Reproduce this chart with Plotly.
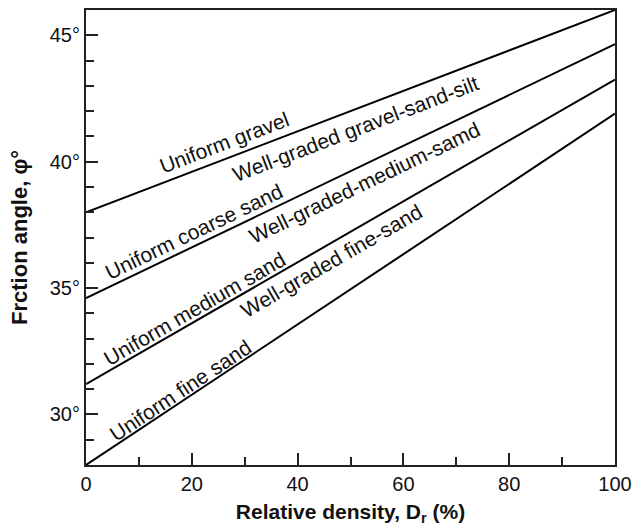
import math
import plotly.graph_objects as go

# ---- data ----
relative_density = [0, 100]
line_gravel = [38.0, 46.0]          # uniform gravel / well-graded gravel-sand-silt
line_coarse = [34.6, 44.65]         # uniform coarse sand / well-graded medium sand
line_medium = [31.2, 43.25]         # uniform medium sand / well-graded fine sand
line_fine = [28.0, 41.9]            # uniform fine sand

label_texts = ["Uniform gravel", "Well-graded gravel-sand-silt", "Uniform coarse sand",
               "Well-graded-medium-samd", "Uniform medium sand", "Well-graded fine-sand",
               "Uniform fine sand"]
label_x = [26.1, 51.0, 20.4, 52.7, 20.6, 46.5, 17.8]
label_y = [40.76, 41.32, 37.24, 39.18, 34.18, 36.08, 30.96]
label_line = [0, 0, 1, 1, 2, 2, 3]

lines = [line_gravel, line_coarse, line_medium, line_fine]

x_tick_vals = [0, 20, 40, 60, 80, 100]
x_tick_text = ["0", "20", "40", "60", "80", "100"]
y_tick_vals = [30, 35, 40, 45]
y_tick_text = ["30°", "35°", "40°", "45°"]

W, H = 634, 528
ml, mr, mt, mb = 86, 19, 10, 63
xr = [0, 100]
yr = [28, 46]
pw = W - ml - mr
ph = H - mt - mb

font_family = "Liberation Sans, Arial, Helvetica, sans-serif"

fig = go.Figure()
for ln in lines:
    fig.add_trace(go.Scatter(x=relative_density, y=ln, mode="lines",
                             line=dict(color="black", width=2), showlegend=False,
                             hoverinfo="skip"))

for t, x, y, li in zip(label_texts, label_x, label_y, label_line):
    ln = lines[li]
    slope = (ln[1] - ln[0]) / (relative_density[1] - relative_density[0])
    px_slope = slope * (ph / (yr[1] - yr[0])) / (pw / (xr[1] - xr[0]))
    ang = math.degrees(math.atan(px_slope))
    fig.add_annotation(x=x, y=y, text=t, showarrow=False, textangle=-ang,
                       font=dict(size=21, color="#111", family=font_family),
                       xanchor="center", yanchor="middle")

fig.update_layout(
    width=W, height=H,
    margin=dict(l=ml, r=mr, t=mt, b=mb, autoexpand=False),
    plot_bgcolor="white", paper_bgcolor="white",
    font=dict(family=font_family, color="#111"),
)
fig.update_xaxes(range=xr, tickvals=x_tick_vals, ticktext=x_tick_text, ticks="inside",
                 ticklen=12, tickwidth=1.5, automargin=False,
                 tickcolor="#222", showline=True, linecolor="#222", linewidth=2, mirror=True,
                 showgrid=False, zeroline=False, tickfont=dict(size=20),
                 minor=dict(ticks="inside", ticklen=8, dtick=10, tick0=0, tickwidth=1.5,
                            tickcolor="#222", showgrid=False),
                 title=dict(text="<b>Relative density, D<sub>r</sub> (%)</b>",
                            font=dict(size=21), standoff=10))
fig.update_yaxes(range=yr, tickvals=y_tick_vals, ticktext=y_tick_text, ticks="inside",
                 ticklen=12, tickwidth=1.5, tickcolor="#222", showline=True, linecolor="#222",
                 linewidth=2, mirror=True, showgrid=False, zeroline=False, automargin=False,
                 tickfont=dict(size=20),
                 minor=dict(ticks="inside", ticklen=8, dtick=1, tick0=0, tickwidth=1.5,
                            tickcolor="#222", showgrid=False),
                 title=dict(text="<b>Frction angle, φ°</b>", font=dict(size=22), standoff=16))

fig.write_html("out.html")
